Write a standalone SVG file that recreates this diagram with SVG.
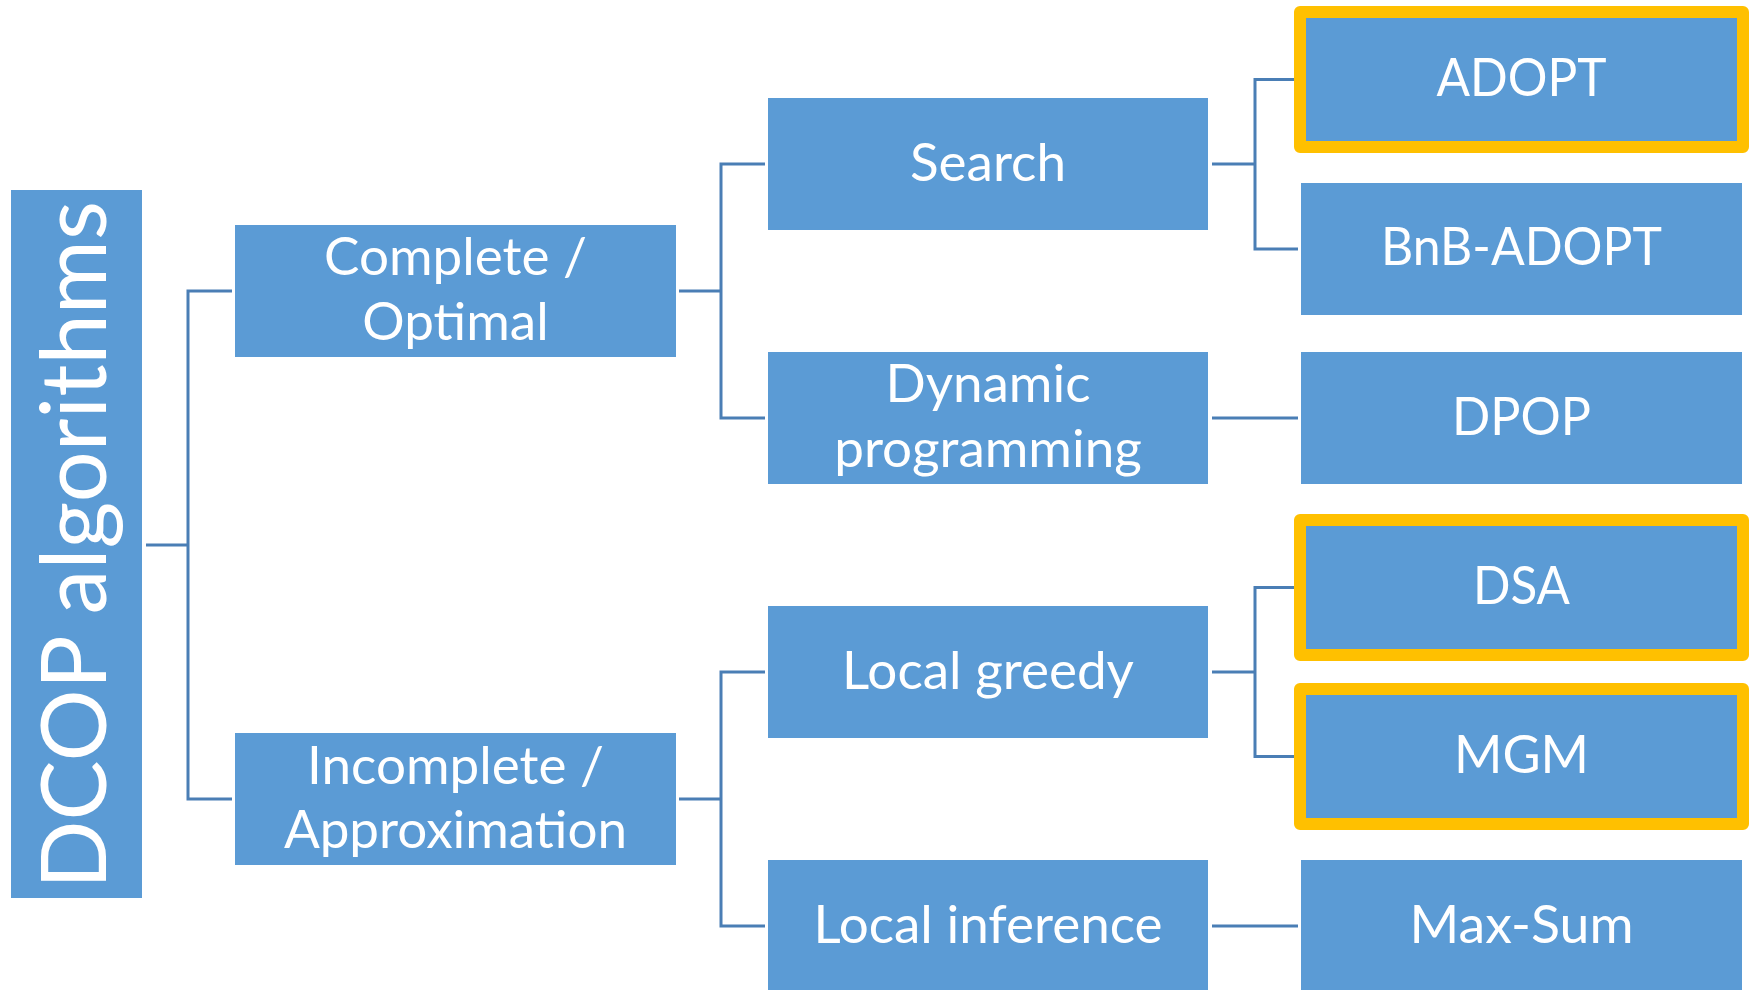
<svg xmlns="http://www.w3.org/2000/svg" width="1754" height="990" viewBox="0 0 1754 990">
<style>
.box{fill:#5B9BD5;}
.hl{fill:#5B9BD5;stroke:#FFC000;stroke-width:12;stroke-linejoin:round;}
.t{font-family:Lato,"Open Sans","Liberation Sans",sans-serif;font-size:53px;fill:#FFFFFF;text-anchor:middle;}
.conn{fill:none;stroke:#4A7EB5;stroke-width:3;}
</style>
<rect width="1754" height="990" fill="#FFFFFF"/>
<g id="connectors" class="conn">
<path d="M146,545 H188 M232,291 H188 V799 H232"/>
<path d="M679,291 H721 M765,164 H721 V418 H765"/>
<path d="M679,799 H721 M765,672 H721 V926 H765"/>
<path d="M1212,164 H1255 M1294,79.5 H1255 V249 H1298"/>
<path d="M1212,418 H1298"/>
<path d="M1212,672 H1255 M1294,587.5 H1255 V756.5 H1294"/>
<path d="M1212,926 H1298"/>
</g>
<g id="root">
<rect class="box" x="11" y="190" width="131" height="708"/>
<text class="t" style="font-size:92px" transform="translate(106,545) rotate(-90)" textLength="688" lengthAdjust="spacingAndGlyphs">DCOP algorithms</text>
</g>
<g id="complete">
<rect class="box" x="235" y="225" width="441" height="132"/>
<text class="t" x="455.5" y="275">Complete /</text>
<text class="t" x="455.5" y="339.5">Optimal</text>
</g>
<g id="incomplete">
<rect class="box" x="235" y="733" width="441" height="132"/>
<text class="t" x="455.5" y="783.5">Incomplete /</text>
<text class="t" x="455.5" y="847.5">Approximation</text>
</g>
<g id="search">
<rect class="box" x="768" y="98" width="440" height="132"/>
<text class="t" x="988" y="181">Search</text>
</g>
<g id="dynprog">
<rect class="box" x="768" y="352" width="440" height="132"/>
<text class="t" x="988" y="402">Dynamic</text>
<text class="t" x="988" y="466.5">programming</text>
</g>
<g id="localgreedy">
<rect class="box" x="768" y="606" width="440" height="132"/>
<text class="t" x="988" y="689">Local greedy</text>
</g>
<g id="localinference">
<rect class="box" x="768" y="860" width="440" height="132"/>
<text class="t" x="988" y="943">Local inference</text>
</g>
<g id="adopt">
<rect class="hl" x="1300" y="12" width="443" height="135"/>
<text class="t" x="1521.5" y="96" textLength="170" lengthAdjust="spacingAndGlyphs">ADOPT</text>
</g>
<g id="bnbadopt">
<rect class="box" x="1301" y="183" width="441" height="132"/>
<text class="t" x="1521.5" y="265" textLength="281" lengthAdjust="spacingAndGlyphs">BnB-ADOPT</text>
</g>
<g id="dpop">
<rect class="box" x="1301" y="352" width="441" height="132"/>
<text class="t" x="1521.5" y="435" textLength="139" lengthAdjust="spacingAndGlyphs">DPOP</text>
</g>
<g id="dsa">
<rect class="hl" x="1300" y="520" width="443" height="135"/>
<text class="t" x="1521.5" y="604" textLength="97" lengthAdjust="spacingAndGlyphs">DSA</text>
</g>
<g id="mgm">
<rect class="hl" x="1300" y="689" width="443" height="135"/>
<text class="t" x="1521.5" y="773" textLength="135" lengthAdjust="spacingAndGlyphs">MGM</text>
</g>
<g id="maxsum">
<rect class="box" x="1301" y="860" width="441" height="132"/>
<text class="t" x="1521.5" y="943" textLength="224" lengthAdjust="spacingAndGlyphs">Max-Sum</text>
</g>
</svg>
